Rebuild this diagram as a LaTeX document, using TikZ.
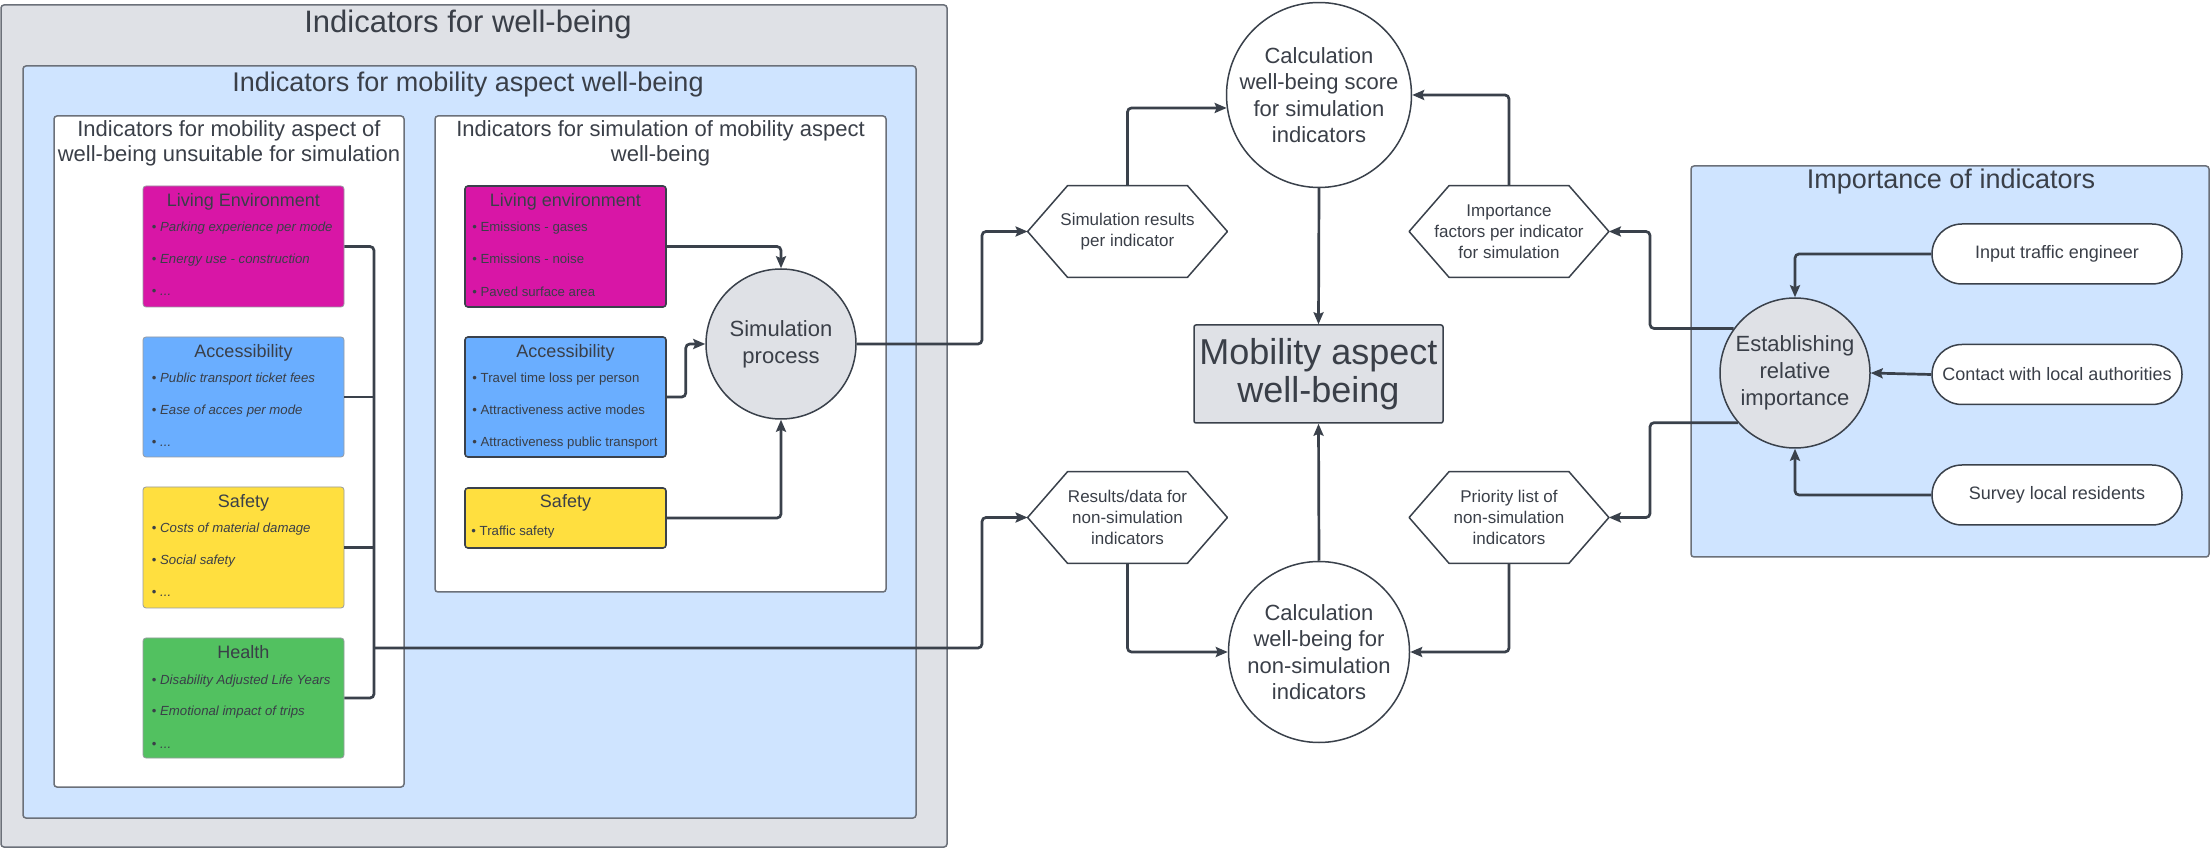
\documentclass[tikz,border=0pt]{standalone}
\usepackage{fontspec}
\setmainfont{Liberation Sans}
\usetikzlibrary{arrows.meta,calc}
\definecolor{linec}{HTML}{3A414B}
\definecolor{txt}{HTML}{3A3F48}
\definecolor{grayfill}{HTML}{DFE1E6}
\definecolor{bluefill}{HTML}{CFE4FF}
\definecolor{magfill}{HTML}{D816A6}
\definecolor{accfill}{HTML}{6AAEFF}
\definecolor{yelfill}{HTML}{FFDF3F}
\definecolor{grnfill}{HTML}{52C160}
\definecolor{boxline}{HTML}{6B7079}
\newcommand{\hexshape}[1]{\draw[hexline] (#1.west) -- ([xshift=20pt]#1.north west) -- ([xshift=-20pt]#1.north east) -- (#1.east) -- ([xshift=-20pt]#1.south east) -- ([xshift=20pt]#1.south west) -- cycle;}
\tikzset{
  container/.style={draw=boxline, line width=0.75pt, rounded corners=1.5pt},
  title/.style={font=\fontsize{13.5pt}{16pt}\selectfont},
  bigtitle/.style={font=\fontsize{15.5pt}{18pt}\selectfont},
  subtitle/.style={font=\fontsize{11pt}{12.5pt}\selectfont},
  btitle/.style={font=\fontsize{9pt}{11pt}\selectfont},
  item/.style={font=\fontsize{6.6pt}{8pt}\selectfont},
  lbox/.style={rectangle, draw=boxline!70, line width=0.4pt, rounded corners=1.5pt, minimum width=100.5pt},
  rbox/.style={rectangle, draw=linec, line width=0.8pt, rounded corners=1.5pt, minimum width=100.5pt},
  circ/.style={circle, draw=linec, line width=0.75pt, fill=grayfill, minimum size=75pt, align=center, font=\fontsize{11pt}{13.5pt}\selectfont},
  bigcirc/.style={circle, draw=linec, line width=0.75pt, fill=white, minimum size=90.5pt, align=center, font=\fontsize{11pt}{13.25pt}\selectfont},
  hex/.style={rectangle, minimum width=99.5pt, minimum height=45.5pt, align=center, font=\fontsize{8.5pt}{10.5pt}\selectfont},
  hexline/.style={draw=linec, line width=0.75pt, line join=round},
  pill/.style={rectangle, rounded corners=15pt, draw=linec, line width=0.75pt, fill=white, minimum width=125pt, minimum height=30pt, font=\fontsize{9pt}{11pt}\selectfont},
  line/.style={draw=linec, line width=1.35pt, rounded corners=2pt},
  conn/.style={line, -{Stealth[length=6pt,width=5pt,inset=1pt]}},
}
\begin{document}
\begin{tikzpicture}[x=0.5pt,y=-0.5pt, every node/.style={text=txt, inner sep=0pt}]
\useasboundingbox (0,0) rectangle (2212,849);
\fill[white] (0,0) rectangle (2212,849);

% containers
\draw[container, fill=grayfill] (1,5) rectangle (947,847);
\node[bigtitle, anchor=base] (tWell) at (468,33) {Indicators for well-being};
\draw[container, fill=bluefill] (23,66) rectangle (916,818);
\node[title, anchor=base] (tMob) at (468,92) {Indicators for mobility aspect well-being};
\draw[container, fill=white] (54,116) rectangle (404,787);
\node[subtitle, anchor=base] (tUns1) at (229,137) {Indicators for mobility aspect of};
\node[subtitle, anchor=base] (tUns2) at (229,162) {well-being unsuitable for simulation};
\draw[container, fill=white] (435,116) rectangle (886,592);
\node[subtitle, anchor=base] (tSim1) at (660.5,137) {Indicators for simulation of mobility aspect};
\node[subtitle, anchor=base] (tSim2) at (660.5,162) {well-being};
\draw[container, fill=bluefill] (1691,166) rectangle (2209,557);
\node[title, anchor=base] (tImp) at (1951,189) {Importance of indicators};

% left column boxes
\node[lbox, fill=magfill, minimum height=60.5pt] (lLE) at (243.5,246.5) {};
\node[btitle, anchor=base] (lLEt) at (243.5,207) {Living Environment};
\node[item, anchor=base west] (lLE1) at (151.5,232) {•\ \textit{Parking experience per mode}};
\node[item, anchor=base west] (lLE2) at (151.5,264) {•\ \textit{Energy use - construction}};
\node[item, anchor=base west] (lLE3) at (151.5,296) {•\ \textit{...}};

\node[lbox, fill=accfill, minimum height=60pt] (lAcc) at (243.5,397) {};
\node[btitle, anchor=base] (lAcct) at (243.5,358) {Accessibility};
\node[item, anchor=base west] (lAcc1) at (151.5,383) {•\ \textit{Public transport ticket fees}};
\node[item, anchor=base west] (lAcc2) at (151.5,415) {•\ \textit{Ease of acces per mode}};
\node[item, anchor=base west] (lAcc3) at (151.5,447) {•\ \textit{...}};

\node[lbox, fill=yelfill, minimum height=60.5pt] (lSaf) at (243.5,547.5) {};
\node[btitle, anchor=base] (lSaft) at (243.5,508) {Safety};
\node[item, anchor=base west] (lSaf1) at (151.5,533) {•\ \textit{Costs of material damage}};
\node[item, anchor=base west] (lSaf2) at (151.5,565) {•\ \textit{Social safety}};
\node[item, anchor=base west] (lSaf3) at (151.5,597) {•\ \textit{...}};

\node[lbox, fill=grnfill, minimum height=60pt] (lH) at (243.5,698) {};
\node[btitle, anchor=base] (lHt) at (243.5,659) {Health};
\node[item, anchor=base west] (lH1) at (151.5,684) {•\ \textit{Disability Adjusted Life Years}};
\node[item, anchor=base west] (lH2) at (151.5,716) {•\ \textit{Emotional impact of trips}};
\node[item, anchor=base west] (lH3) at (151.5,748) {•\ \textit{...}};

% right column boxes
\node[rbox, fill=magfill, minimum height=60.5pt] (rLE) at (565.5,246.5) {};
\node[btitle, anchor=base] (rLEt) at (565.5,207) {Living environment};
\node[item, anchor=base west] (rLE1) at (472,232) {•\ Emissions - gases};
\node[item, anchor=base west] (rLE2) at (472,264) {•\ Emissions - noise};
\node[item, anchor=base west] (rLE3) at (472,297) {•\ Paved surface area};

\node[rbox, fill=accfill, minimum height=60pt] (rAcc) at (565.5,397) {};
\node[btitle, anchor=base] (rAcct) at (565.5,358) {Accessibility};
\node[item, anchor=base west] (rAcc1) at (472,383) {•\ Travel time loss per person};
\node[item, anchor=base west] (rAcc2) at (472,415) {•\ Attractiveness active modes};
\node[item, anchor=base west] (rAcc3) at (472,447) {•\ Attractiveness public transport};

\node[rbox, fill=yelfill, minimum height=30pt] (rSaf) at (565.5,518) {};
\node[btitle, anchor=base] (rSaft) at (565.5,508) {Safety};
\node[item, anchor=base west] (rSaf1) at (471,536) {•\ Traffic safety};

\node[circ] (sim) at (781,344) {Simulation\\process};

% middle
\node[hex] (simres) at (1127.5,231.5) {Simulation results\\per indicator};
\node[hex] (imp) at (1509,231.5) {Importance\\factors per indicator\\for simulation};
\node[hex] (resdata) at (1127.5,517.5) {Results/data for\\non-simulation\\indicators};
\node[hex] (prio) at (1509,517.5) {Priority list of\\non-simulation\\indicators};
\hexshape{simres}
\hexshape{imp}
\hexshape{resdata}
\hexshape{prio}

\node[bigcirc] (calc1) at (1319,95) {Calculation\\well-being score\\for simulation\\indicators};
\node[bigcirc] (calc2) at (1319,652) {Calculation\\well-being for\\non-simulation\\indicators};
\node[rectangle, draw=linec, line width=0.75pt, rounded corners=1pt, fill=grayfill, minimum width=124.5pt, minimum height=49pt, align=center, font=\fontsize{18pt}{19pt}\selectfont] (mob) at (1318.5,374) {Mobility aspect\\well-being};

% right
\node[circ] (est) at (1795,373) {Establishing\\relative\\importance};
\node[pill] (p1) at (2057,254) {Input traffic engineer};
\node[pill] (p2) at (2057,374.5) {Contact with local authorities};
\node[pill] (p3) at (2057,495) {Survey local residents};

% connectors
\coordinate (busx) at (374,0);
\coordinate (kx) at (982,0);
\coordinate (rx) at (1650,0);
\coordinate (busj) at (374,648);
\draw[line] (lLE.east) -| (lH.east -| busx) -- (lH.east);
\draw[line] (lAcc.east) -- (lAcc.east -| busx);
\draw[line] (lSaf.east) -- (lSaf.east -| busx);
\draw[conn] (busj) -- (busj -| kx) |- (resdata.west);

\draw[conn] (rLE.east) -| (sim.north);
\draw[conn] (rAcc.east) -- ++(19,0) |- (sim.west);
\draw[conn] (rSaf.east) -| (sim.south);
\draw[conn] (sim.east) -- (sim.east -| kx) |- (simres.west);

\draw[conn] (simres.north) |- (calc1.188);
\draw[conn] (imp.north) |- (calc1.east);
\draw[conn] (calc1.south) -- (mob.north);
\draw[conn] (calc2.north) -- (mob.south);
\draw[conn] (resdata.south) |- (calc2.west);
\draw[conn] (prio.south) |- (calc2.east);

\draw[conn] (p1.west) -| (est.north);
\draw[conn] (p2.west) -- (est.east);
\draw[conn] (p3.west) -| (est.south);
\draw[conn] (est.144) -- (est.144 -| rx) |- (imp.east);
\draw[conn] (est.221) -- (est.221 -| rx) |- (prio.east);
\end{tikzpicture}
\end{document}
